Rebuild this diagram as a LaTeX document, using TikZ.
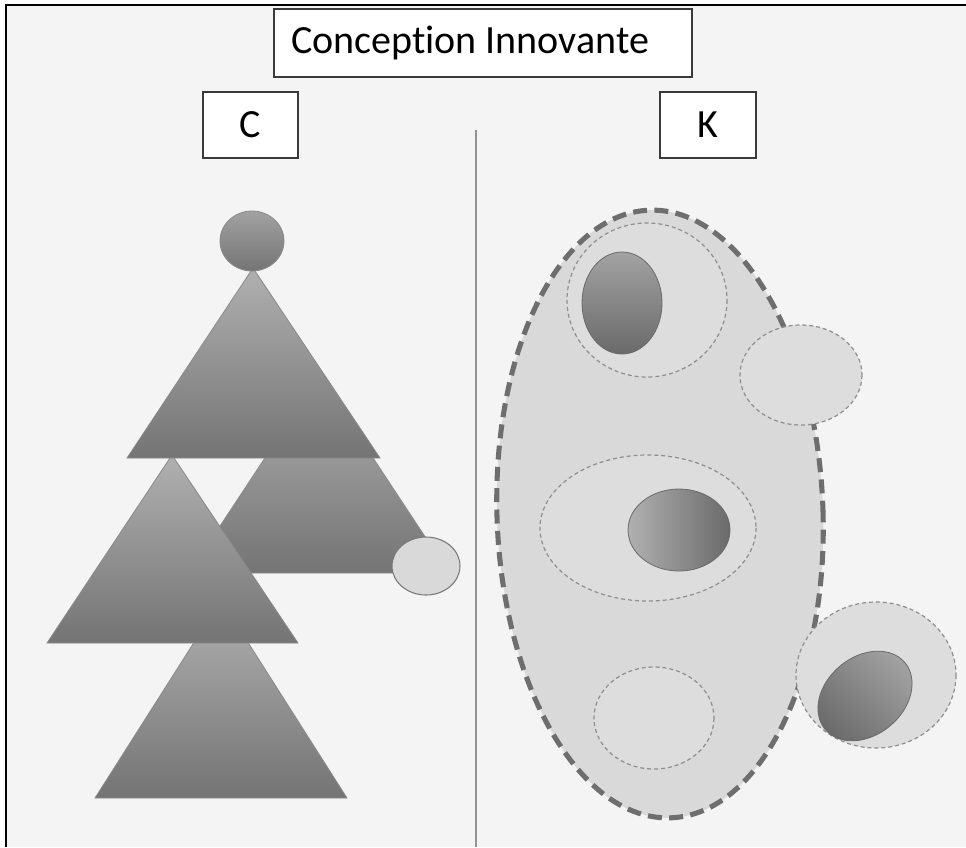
\documentclass[tikz,border=0pt]{standalone}
\usepackage{fontspec}
\setmainfont{Carlito}[Ligatures=NoCommon]
\definecolor{bgcol}{HTML}{F4F4F4}
\definecolor{boxline}{HTML}{3A3A3A}
\definecolor{tritop}{HTML}{B0B0B0}
\definecolor{tribot}{HTML}{747474}
\definecolor{triedge}{HTML}{8A8A8A}
\definecolor{setfill}{HTML}{D9D9D9}
\definecolor{subfill}{HTML}{DDDDDD}
\definecolor{thickdash}{HTML}{6E6E6E}
\definecolor{thindash}{HTML}{8E8E8E}
\definecolor{darktop}{HTML}{A2A2A2}
\definecolor{darkbot}{HTML}{6A6A6A}

\tikzset{
  labelbox/.style={draw=boxline, line width=1.5pt, fill=white, inner sep=0pt,
    font=\fontsize{30}{36}\selectfont},
  tri/.style={top color=tritop, bottom color=tribot, draw=triedge, line width=0.6pt},
  bigset/.style={fill=setfill, draw=thickdash, line width=3.8pt, dash pattern=on 10.5pt off 5.5pt},
  subset/.style={fill=subfill, draw=thindash, line width=0.9pt, dash pattern=on 3pt off 2.2pt},
  seed/.style={draw=darkbot, line width=0.6pt}
}

\begin{document}
\begin{tikzpicture}[x=0.75pt,y=-0.75pt]
    \useasboundingbox (0,0) rectangle (966,847);

    % Draw background and frame
    \fill[bgcol] (6,5) rectangle (966,847);
    \draw[line width=1.1pt] (6,847) -- (6,5) -- (966,5);

    % Title and the two spaces
    \node[labelbox, anchor=west, minimum height=51pt] (title) at (273,43)
        {\kern12.75pt Conception Innovante\kern32.25pt};
    \node[labelbox, minimum width=71.25pt, minimum height=49.5pt] (C) at (250.5,125) {C};
    \node[labelbox, minimum width=72pt, minimum height=49.5pt] (K) at (708,125) {K};

    % Separator between C and K
    \draw[color=gray!85, line width=1.2pt] (476,130) -- (476,847);

    % C space: tree of triangles
    \shadedraw[tri] (319,376) -- (449,573) -- (189,573) -- cycle;
    \shadedraw[tri] (221,600) -- (347,798) -- (95,798) -- cycle;
    \shadedraw[tri] (172,455) -- (298,643) -- (47,643) -- cycle;
    \shadedraw[tri] (253,268) -- (380,458) -- (127,458) -- cycle;
    \shadedraw[top color=darktop, bottom color=tribot, draw=triedge, line width=0.6pt]
        (252,241) ellipse [x radius=32, y radius=30];
    \filldraw[fill=setfill, draw=gray!95!black, line width=0.8pt]
        (426,566) ellipse [x radius=34, y radius=29];

    % K space: knowledge sets
    \filldraw[bigset, rotate around={2:(660,514)}] (660,514) ellipse [x radius=163, y radius=304];
    \filldraw[subset] (647,300) ellipse [x radius=80, y radius=77];
    \filldraw[subset] (648,528) ellipse [x radius=108, y radius=73];
    \filldraw[subset] (654,718) ellipse [x radius=60, y radius=51];
    \filldraw[subset] (801,375) ellipse [x radius=61, y radius=50];
    \filldraw[subset] (876,675) ellipse [x radius=80, y radius=73];

    % Dark knowledge seeds
    \shadedraw[seed, top color=darktop, bottom color=darkbot] (622,303) ellipse [x radius=40, y radius=51];
    \shadedraw[seed, left color=darktop!85, right color=darkbot] (679,530) ellipse [x radius=51, y radius=41];
    \shadedraw[seed, shading=axis, top color=darktop, bottom color=darkbot, shading angle=-45,
        rotate around={40:(865,696)}] (865,696) ellipse [x radius=52, y radius=39];
\end{tikzpicture}
\end{document}
